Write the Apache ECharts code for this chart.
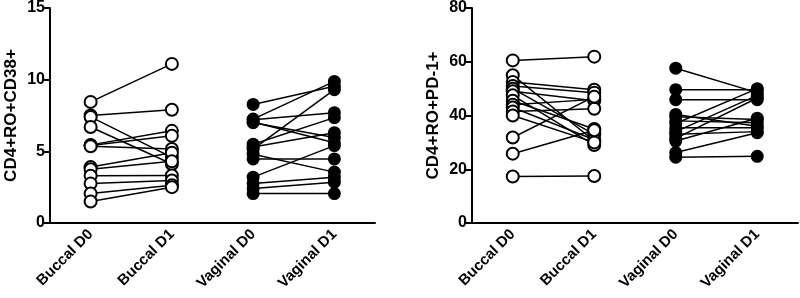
<!DOCTYPE html>
<html><head><meta charset="utf-8">
<script src="https://cdn.jsdelivr.net/npm/echarts@6/dist/echarts.min.js"></script>
<style>html,body{margin:0;padding:0;background:#fff}#c{width:800px;height:298px}</style>
</head><body><div id="c"></div>
<script>
const categories = ['Buccal D0', 'Buccal D1', 'Vaginal D0', 'Vaginal D1'];
// Panel 1: CD4+RO+CD38+
const cd38BuccalD0 = [8.45, 7.5, 7.4, 6.7, 5.45, 5.4, 5.35, 3.9, 3.75, 3.3, 2.75, 2.05, 1.5];
const cd38BuccalD1 = [11.1, 7.9, 4.58, 4.12, 6.43, 6.08, 5.16, 4.9, 4.3, 3.32, 2.97, 2.63, 2.5];
const cd38VaginalD0 = [8.27, 7.25, 7.2, 7.05, 7.0, 5.5, 5.3, 5.15, 4.8, 4.47, 3.2, 2.75, 2.4, 2.05];
const cd38VaginalD1 = [9.54, 9.88, 7.7, 5.6, 5.96, 7.35, 6.3, 9.3, 3.55, 4.47, 5.4, 3.2, 2.85, 2.05];
// Panel 2: CD4+RO+PD-1+
const pd1BuccalD0 = [60.5, 55, 52.5, 51, 50, 49, 47.5, 45.5, 44, 43, 41.5, 40, 31.8, 25.8, 17.3];
const pd1BuccalD1 = [61.9, 30.5, 49.6, 48.5, 33, 45.5, 29, 35, 46, 31, 42.5, 30, 47, 34.5, 17.5];
const pd1VaginalD0 = [57.6, 49.6, 45.9, 40.4, 39.5, 38, 37, 35.4, 34, 33, 31.5, 30.5, 26.2, 24.5];
const pd1VaginalD1 = [48.5, 49.6, 45.9, 36, 38.5, 37.3, 50, 35.4, 47.5, 34, 46.5, 39, 33.6, 24.8];

const yTicks1 = {min: 0, max: 15, interval: 5};
const yTicks2 = {min: 0, max: 80, interval: 20};

const FONT = '"Liberation Sans", Arial, sans-serif';
const chart = echarts.init(document.getElementById('c'), null, {renderer: 'canvas'});

function pairSeries(d0, d1, offset, axisIndex, open) {
  return d0.map((v, i) => {
    const data = [null, null, null, null];
    data[offset] = v; data[offset + 1] = d1[i];
    return {
      type: 'line', xAxisIndex: axisIndex, yAxisIndex: axisIndex, data,
      symbol: 'circle', symbolSize: open ? 12 : 11, connectNulls: false,
      lineStyle: {color: '#000', width: 1.5},
      itemStyle: {color: open ? '#fff' : '#000', borderColor: '#000', borderWidth: 2},
      emphasis: {disabled: true}, animation: false, silent: true
    };
  });
}

function xAx(gi) {
  return {
    type: 'category', gridIndex: gi, data: categories, boundaryGap: true,
    axisLine: {lineStyle: {color: '#000', width: 2}},
    axisTick: {alignWithLabel: true, length: 6, lineStyle: {color: '#000', width: 2}},
    axisLabel: {rotate: 45, color: '#000', fontWeight: 'bold', fontSize: 15, fontFamily: FONT, margin: 9, interval: 0},
    splitLine: {show: false}
  };
}
function yAx(gi, t, name) {
  return {
    type: 'value', gridIndex: gi, min: t.min, max: t.max, interval: t.interval,
    name, nameLocation: 'middle', nameGap: 30, nameRotate: 90,
    nameTextStyle: {color: '#000', fontWeight: 'bold', fontSize: 17, fontFamily: FONT},
    axisLine: {show: true, lineStyle: {color: '#000', width: 2}},
    axisTick: {show: true, length: 6, lineStyle: {color: '#000', width: 2}},
    axisLabel: {color: '#000', fontWeight: 'bold', fontSize: 16, fontFamily: FONT, margin: 5},
    splitLine: {show: false}
  };
}

chart.setOption({
  animation: false,
  grid: [
    {left: 50, top: 6, width: 325, height: 217},
    {left: 472, top: 6, width: 326, height: 217}
  ],
  xAxis: [xAx(0), xAx(1)],
  yAxis: [yAx(0, yTicks1, 'CD4+RO+CD38+'), yAx(1, yTicks2, 'CD4+RO+PD-1+')],
  series: [].concat(
    pairSeries(cd38BuccalD0, cd38BuccalD1, 0, 0, true),
    pairSeries(cd38VaginalD0, cd38VaginalD1, 2, 0, false),
    pairSeries(pd1BuccalD0, pd1BuccalD1, 0, 1, true),
    pairSeries(pd1VaginalD0, pd1VaginalD1, 2, 1, false)
  )
});
</script></body></html>
